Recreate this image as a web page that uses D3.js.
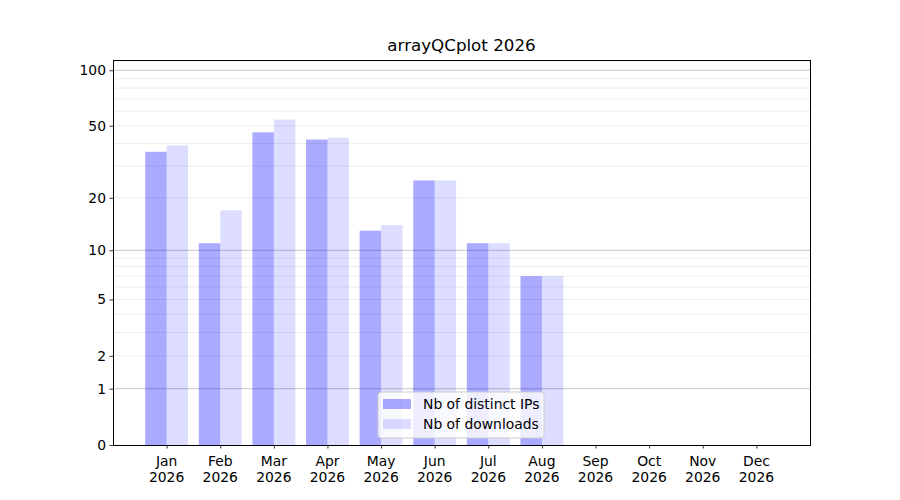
<!DOCTYPE html>
<html>
<head>
<meta charset="utf-8">
<script src="https://d3js.org/d3.v7.min.js"></script>
<style>
  body { margin: 0; background: #fff; }
  text { font-family: "DejaVu Sans", sans-serif; fill: #000; }
</style>
</head>
<body>
<div id="chart"></div>
<script>
// chart data
var months = ["Jan", "Feb", "Mar", "Apr", "May", "Jun", "Jul", "Aug", "Sep", "Oct", "Nov", "Dec"];
var year = "2026";
var distinctIPs = [36, 11, 46, 42, 13, 25, 11, 7, 0, 0, 0, 0];
var downloads = [39, 17, 54, 43, 14, 25, 11, 7, 0, 0, 0, 0];
var yTicks = [0, 1, 2, 5, 10, 20, 50, 100];
var minorGrid = [2, 3, 4, 5, 6, 7, 8, 9, 20, 30, 40, 50, 60, 70, 80, 90];
var majorGrid = [1, 10, 100];

var margin = {top: 60, right: 90, bottom: 55, left: 113},
    width = 900 - margin.left - margin.right,
    height = 500 - margin.top - margin.bottom;

var svg = d3.select("#chart")
  .append("svg")
    .attr("width", 900)
    .attr("height", 500)
  .append("g")
    .attr("transform", "translate(" + margin.left + "," + margin.top + ")");

// x in month index units, one empty slot on each side
var x = d3.scaleLinear().domain([-1, 12]).range([0, width]);

// y axis is log10(1 + value)
function f(v) { return Math.log10(1 + v); }
var yLin = d3.scaleLinear().domain([0, 2.059]).range([height, 0]);
function y(v) { return yLin(f(v)); }

// grid
svg.selectAll(".minor")
  .data(minorGrid)
  .enter().append("line")
    .attr("x1", 0).attr("x2", width)
    .attr("y1", function(d) { return y(d); })
    .attr("y2", function(d) { return y(d); })
    .attr("stroke", "#ebebeb")
    .attr("stroke-width", 0.9);

svg.selectAll(".major")
  .data(majorGrid)
  .enter().append("line")
    .attr("x1", 0).attr("x2", width)
    .attr("y1", function(d) { return y(d); })
    .attr("y2", function(d) { return y(d); })
    .attr("stroke", "#c8c8c8")
    .attr("stroke-width", 1);

var barW = 0.4;

svg.selectAll(".ips")
  .data(distinctIPs)
  .enter().append("rect")
    .attr("x", function(d, i) { return x(i - barW); })
    .attr("width", x(barW) - x(0))
    .attr("y", function(d) { return y(d); })
    .attr("height", function(d) { return height - y(d); })
    .attr("fill", "blue")
    .attr("fill-opacity", 0.333);

svg.selectAll(".dl")
  .data(downloads)
  .enter().append("rect")
    .attr("x", function(d, i) { return x(i); })
    .attr("width", x(barW) - x(0))
    .attr("y", function(d) { return y(d); })
    .attr("height", function(d) { return height - y(d); })
    .attr("fill", "blue")
    .attr("fill-opacity", 0.133);

// axes
var xAxis = svg.append("g")
  .attr("transform", "translate(0," + height + ")")
  .call(d3.axisBottom(x).tickValues(d3.range(12)).tickSize(3.5).tickSizeOuter(0).tickFormat(""));
xAxis.select(".domain").remove();
xAxis.selectAll("line").attr("stroke", "#000").attr("stroke-width", 0.8);

var xLabels = svg.selectAll(".xl")
  .data(months)
  .enter().append("text")
    .attr("x", function(d, i) { return x(i); })
    .attr("y", height + 21)
    .attr("text-anchor", "middle")
    .style("font-size", "13.9px");
xLabels.append("tspan").attr("x", function(d, i) { return x(i); }).text(function(d) { return d; });
xLabels.append("tspan").attr("x", function(d, i) { return x(i); }).attr("dy", 16).text(year);

var yAxis = svg.append("g")
  .call(d3.axisLeft(yLin)
    .tickValues(yTicks.map(f))
    .tickSize(3.5)
    .tickPadding(3.5)
    .tickFormat(function(d, i) { return yTicks[i]; }));
yAxis.select(".domain").remove();
yAxis.selectAll("line").attr("stroke", "#000").attr("stroke-width", 0.8);
yAxis.selectAll("text").style("font-size", "13.9px").style("font-family", "DejaVu Sans").attr("fill", "#000");

// frame
svg.append("rect")
  .attr("x", 0.5).attr("y", 0.5)
  .attr("width", width).attr("height", height)
  .attr("fill", "none").attr("stroke", "#000").attr("stroke-width", 1)
  .attr("shape-rendering", "crispEdges");

// title
svg.append("text")
  .attr("x", width / 2)
  .attr("y", -9)
  .attr("text-anchor", "middle")
  .style("font-size", "16.7px")
  .text("arrayQCplot " + year);

// legend
var legend = svg.append("g").attr("transform", "translate(265,332)");
legend.append("rect")
  .attr("width", 166).attr("height", 46)
  .attr("rx", 3)
  .attr("fill", "#fff").attr("fill-opacity", 0.8)
  .attr("stroke", "#ccc").attr("stroke-width", 1);
var items = [["Nb of distinct IPs", 0.333], ["Nb of downloads", 0.133]];
items.forEach(function(it, i) {
  legend.append("rect")
    .attr("x", 5).attr("y", 7 + i * 20)
    .attr("width", 28).attr("height", 10)
    .attr("fill", "blue").attr("fill-opacity", it[1]);
  legend.append("text")
    .attr("x", 45).attr("y", 17 + i * 20)
    .style("font-size", "13.9px")
    .text(it[0]);
});
</script>
</body>
</html>
